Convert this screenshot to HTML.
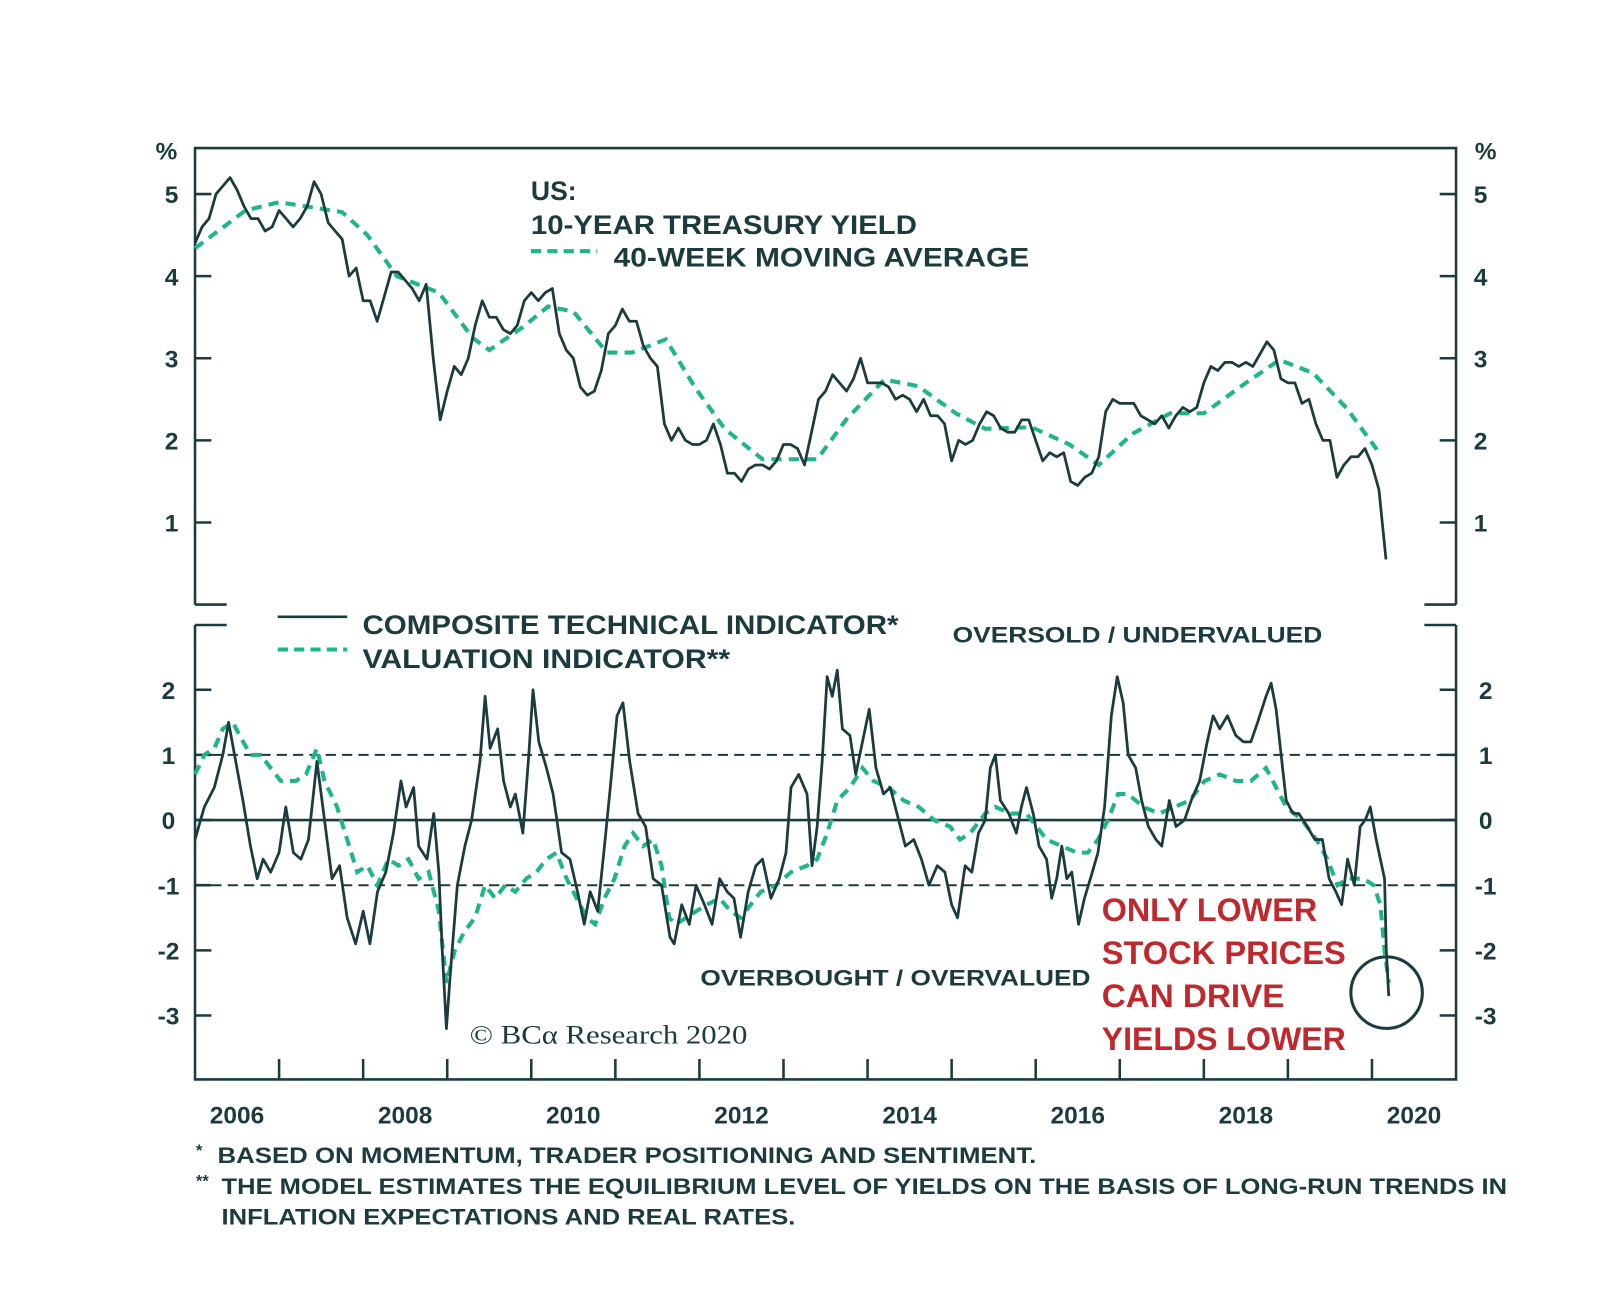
<!DOCTYPE html>
<html><head><meta charset="utf-8">
<style>
html,body{margin:0;padding:0;background:#fff;}
svg{display:block;}
</style></head>
<body>
<svg id="chart" width="1600" height="1298" viewBox="0 0 1567 1271" preserveAspectRatio="none" font-family="Liberation Sans, sans-serif">
  <g id="frameG"></g>
  <g id="topPanelG"></g>
  <g id="botPanelG"></g>
  <g fill="#1b3b3e" font-weight="bold" font-size="26">
    <text x="520" y="196">US:</text>
    <text x="520" y="229" textLength="378" lengthAdjust="spacingAndGlyphs">10-YEAR TREASURY YIELD</text>
    <line x1="520" y1="246" x2="585" y2="246" stroke="#1fb58a" stroke-width="4" stroke-dasharray="10,6"/>
    <text x="601" y="261" textLength="407" lengthAdjust="spacingAndGlyphs">40-WEEK MOVING AVERAGE</text>
  </g>
  <g fill="#1b3b3e" font-weight="bold" font-size="26">
    <line x1="272" y1="604" x2="340" y2="604" stroke="#1b3b3e" stroke-width="2.5"/>
    <text x="355" y="621" textLength="525" lengthAdjust="spacingAndGlyphs">COMPOSITE TECHNICAL INDICATOR*</text>
    <line x1="272" y1="636" x2="340" y2="636" stroke="#1fb58a" stroke-width="4" stroke-dasharray="10,6"/>
    <text x="355" y="654" textLength="360" lengthAdjust="spacingAndGlyphs">VALUATION INDICATOR**</text>
  </g>
  <text x="933" y="629" font-size="22" font-weight="bold" fill="#1b3b3e" textLength="362" lengthAdjust="spacingAndGlyphs">OVERSOLD / UNDERVALUED</text>
  <text x="686" y="965" font-size="22" font-weight="bold" fill="#1b3b3e" textLength="382" lengthAdjust="spacingAndGlyphs">OVERBOUGHT / OVERVALUED</text>
  <g fill="#c0282d" font-size="32" font-weight="bold">
    <text x="1079" y="902" textLength="211" lengthAdjust="spacingAndGlyphs">ONLY LOWER</text>
    <text x="1079" y="944" textLength="239" lengthAdjust="spacingAndGlyphs">STOCK PRICES</text>
    <text x="1079" y="986" textLength="179" lengthAdjust="spacingAndGlyphs">CAN DRIVE</text>
    <text x="1079" y="1028" textLength="239" lengthAdjust="spacingAndGlyphs">YIELDS LOWER</text>
  </g>
  <circle cx="1358" cy="972" r="35" fill="none" stroke="#1b3b3e" stroke-width="3"/>
  <text x="460" y="1022" style="font-family:'Liberation Serif',serif" font-size="26" fill="#1b3b3e" textLength="272" lengthAdjust="spacingAndGlyphs">© BCα Research 2020</text>
  <g fill="#1b3b3e" font-weight="bold" font-size="22">
    <text x="192" y="1132" font-size="16">*</text>
    <text x="213" y="1139" textLength="802" lengthAdjust="spacingAndGlyphs">BASED ON MOMENTUM, TRADER POSITIONING AND SENTIMENT.</text>
    <text x="192" y="1162" font-size="16">**</text>
    <text x="217" y="1169" textLength="1259" lengthAdjust="spacingAndGlyphs">THE MODEL ESTIMATES THE EQUILIBRIUM LEVEL OF YIELDS ON THE BASIS OF LONG-RUN TRENDS IN</text>
    <text x="217" y="1199" textLength="562" lengthAdjust="spacingAndGlyphs">INFLATION EXPECTATIONS AND REAL RATES.</text>
  </g>
</svg>
<script>
// ---- data ----
const yieldStart = 2006.0; // monthly series
const yieldValues = [
4.4,4.6,4.7,5.0,5.1,5.2,5.05,4.85,4.7,4.7,4.55,4.6,
4.8,4.7,4.6,4.7,4.85,5.15,5.0,4.65,4.55,4.45,4.0,4.1,
3.7,3.7,3.45,3.75,4.05,4.05,3.95,3.85,3.7,3.9,3.0,2.25,
2.6,2.9,2.8,3.0,3.4,3.7,3.5,3.5,3.35,3.3,3.4,3.7,
3.8,3.7,3.8,3.85,3.3,3.1,3.0,2.65,2.55,2.6,2.85,3.3,
3.4,3.6,3.45,3.45,3.15,3.0,2.9,2.2,2.0,2.15,2.0,1.95,
1.95,2.0,2.2,1.95,1.6,1.6,1.5,1.65,1.7,1.7,1.65,1.75,
1.95,1.95,1.9,1.7,2.1,2.5,2.6,2.8,2.7,2.6,2.75,3.0,
2.7,2.7,2.7,2.65,2.5,2.55,2.5,2.35,2.5,2.3,2.3,2.2,
1.75,2.0,1.95,2.0,2.2,2.35,2.3,2.15,2.1,2.1,2.25,2.25,
2.0,1.75,1.85,1.8,1.85,1.5,1.45,1.55,1.6,1.8,2.35,2.5,
2.45,2.45,2.45,2.3,2.25,2.2,2.3,2.15,2.3,2.4,2.35,2.4,
2.7,2.9,2.85,2.95,2.95,2.9,2.95,2.9,3.05,3.2,3.1,2.75,
2.7,2.7,2.45,2.5,2.2,2.0,2.0,1.55,1.7,1.8,1.8,1.9,
1.7,1.4,0.55];
const maDates = [2006.0,2006.6,2007.0,2007.75,2008.05,2008.4,2008.9,2009.3,2009.5,2009.9,2010.2,2010.5,2010.9,2011.2,2011.6,2011.95,2012.3,2012.75,2013.15,2013.4,2013.75,2014.2,2014.6,2015.05,2015.4,2015.95,2016.4,2016.75,2017.15,2017.6,2018.0,2018.5,2018.9,2019.3,2019.7,2020.1];
const maValues = [4.34,4.8,4.9,4.78,4.5,4.0,3.8,3.25,3.1,3.38,3.63,3.57,3.07,3.07,3.23,2.64,2.14,1.77,1.77,1.77,2.26,2.74,2.66,2.33,2.14,2.16,1.95,1.7,2.08,2.33,2.33,2.7,2.98,2.82,2.39,1.83];
const compDates = [2006.00,2006.11,2006.23,2006.33,2006.40,2006.47,2006.57,2006.66,2006.74,2006.81,2006.90,2007.00,2007.08,2007.17,2007.26,2007.35,2007.45,2007.53,2007.63,2007.72,2007.81,2007.91,2008.00,2008.08,2008.17,2008.27,2008.36,2008.45,2008.51,2008.60,2008.66,2008.76,2008.84,2008.90,2008.94,2008.99,2009.04,2009.12,2009.21,2009.29,2009.39,2009.45,2009.51,2009.60,2009.67,2009.75,2009.81,2009.90,2009.97,2010.02,2010.09,2010.18,2010.26,2010.36,2010.46,2010.55,2010.63,2010.70,2010.79,2010.87,2010.94,2011.02,2011.09,2011.17,2011.27,2011.36,2011.45,2011.55,2011.65,2011.70,2011.79,2011.88,2011.96,2012.06,2012.15,2012.24,2012.33,2012.41,2012.49,2012.58,2012.67,2012.75,2012.85,2012.95,2013.03,2013.09,2013.18,2013.28,2013.34,2013.40,2013.46,2013.52,2013.58,2013.64,2013.70,2013.79,2013.86,2013.94,2014.02,2014.10,2014.19,2014.27,2014.37,2014.45,2014.55,2014.64,2014.73,2014.83,2014.92,2015.00,2015.07,2015.16,2015.24,2015.32,2015.40,2015.46,2015.52,2015.58,2015.68,2015.77,2015.83,2015.89,2015.97,2016.04,2016.13,2016.19,2016.25,2016.31,2016.37,2016.43,2016.51,2016.58,2016.65,2016.74,2016.82,2016.90,2016.97,2017.04,2017.10,2017.19,2017.26,2017.34,2017.43,2017.50,2017.59,2017.67,2017.77,2017.85,2017.95,2018.04,2018.11,2018.19,2018.28,2018.38,2018.47,2018.56,2018.64,2018.74,2018.80,2018.86,2018.92,2018.98,2019.06,2019.13,2019.23,2019.32,2019.41,2019.49,2019.57,2019.64,2019.71,2019.79,2019.86,2019.92,2019.98,2020.05,2020.10,2020.15,2020.17,2020.20];
const compValues = [-0.3,0.2,0.5,1.0,1.5,1.0,0.3,-0.4,-0.9,-0.6,-0.8,-0.5,0.2,-0.5,-0.6,-0.3,0.9,0.1,-0.9,-0.7,-1.5,-1.9,-1.4,-1.9,-1.1,-0.8,-0.2,0.6,0.2,0.5,-0.4,-0.6,0.1,-0.8,-2.0,-3.2,-2.3,-1.0,-0.4,0.0,0.9,1.9,1.1,1.4,0.6,0.2,0.4,-0.2,1.0,2.0,1.2,0.8,0.4,-0.5,-0.6,-1.1,-1.6,-1.1,-1.4,-0.4,0.5,1.6,1.8,0.9,0.1,-0.1,-0.9,-1.0,-1.8,-1.9,-1.3,-1.6,-1.0,-1.3,-1.6,-0.9,-1.1,-1.2,-1.8,-1.1,-0.7,-0.6,-1.2,-0.9,-0.5,0.5,0.7,0.4,-0.7,-0.1,0.9,2.2,1.9,2.3,1.4,1.3,0.7,1.2,1.7,0.8,0.4,0.5,0.0,-0.4,-0.3,-0.6,-1.0,-0.7,-0.8,-1.3,-1.5,-0.7,-0.8,-0.2,0.0,0.8,1.0,0.3,0.1,-0.2,0.2,0.5,0.1,-0.4,-0.6,-1.2,-0.9,-0.4,-0.9,-0.8,-1.6,-1.2,-0.9,-0.5,0.2,1.6,2.2,1.8,1.0,0.8,0.3,-0.1,-0.3,-0.4,0.3,-0.1,0.0,0.3,0.6,1.2,1.6,1.4,1.6,1.3,1.2,1.2,1.5,1.9,2.1,1.7,1.0,0.3,0.1,0.1,-0.1,-0.3,-0.3,-0.9,-1.1,-1.3,-0.6,-1.0,-0.1,0.0,0.2,-0.3,-0.6,-0.9,-2.0,-2.7];
const valDates = [2006.00,2006.11,2006.23,2006.33,2006.45,2006.53,2006.66,2006.78,2006.90,2007.02,2007.20,2007.32,2007.45,2007.54,2007.69,2007.81,2007.93,2008.05,2008.17,2008.30,2008.42,2008.54,2008.66,2008.78,2008.90,2008.99,2009.09,2009.21,2009.33,2009.45,2009.57,2009.69,2009.81,2009.94,2010.06,2010.18,2010.30,2010.42,2010.54,2010.66,2010.76,2010.87,2010.99,2011.11,2011.21,2011.33,2011.45,2011.55,2011.64,2011.72,2011.84,2011.96,2012.09,2012.24,2012.37,2012.49,2012.61,2012.73,2012.91,2013.09,2013.28,2013.40,2013.52,2013.64,2013.79,2013.94,2014.07,2014.25,2014.43,2014.61,2014.79,2014.98,2015.10,2015.22,2015.40,2015.52,2015.70,2015.89,2016.01,2016.13,2016.31,2016.49,2016.62,2016.74,2016.86,2016.98,2017.10,2017.28,2017.47,2017.65,2017.83,2018.01,2018.19,2018.38,2018.56,2018.74,2018.86,2018.98,2019.17,2019.34,2019.47,2019.59,2019.71,2019.90,2020.02,2020.10,2020.15,2020.20];
const valValues = [0.7,1.0,1.1,1.4,1.5,1.3,1.0,1.0,0.8,0.6,0.6,0.7,1.1,0.6,0.2,-0.3,-0.8,-0.7,-1.0,-0.6,-0.7,-0.6,-0.9,-0.8,-1.4,-2.5,-2.0,-1.7,-1.5,-1.0,-1.2,-1.0,-1.1,-0.9,-0.8,-0.6,-0.5,-0.9,-1.2,-1.5,-1.6,-1.2,-0.9,-0.4,-0.2,-0.4,-0.3,-0.7,-1.5,-1.6,-1.5,-1.4,-1.3,-1.2,-1.4,-1.5,-1.3,-1.1,-1.0,-0.8,-0.7,-0.6,-0.2,0.3,0.5,0.8,0.6,0.5,0.3,0.2,0.0,-0.1,-0.3,-0.2,0.1,0.2,0.1,0.1,-0.1,-0.3,-0.4,-0.5,-0.5,-0.3,0.0,0.4,0.4,0.2,0.1,0.2,0.3,0.6,0.7,0.6,0.6,0.8,0.5,0.2,0.0,-0.3,-0.6,-1.0,-0.9,-0.9,-1.0,-1.3,-2.0,-2.5];
const yearLabels = ["2006","2008","2010","2012","2014","2016","2018","2020"];
const topTicks = [1,2,3,4,5];
const botTicks = [-3,-2,-1,0,1,2];

// ---- scales ----
const X0=191, X1=1426, T0=2006, T1=2021;
const xs = t => X0 + (t-T0)/(T1-T0)*(X1-X0);
const yTop = v => 592 - v*80.4;
const yBot = v => 803 - v*63.8;
const NS="http://www.w3.org/2000/svg";
const DARK="#1b3b3e", GREEN="#1fb58a";
function mk(tag, attrs, parent){const e=document.createElementNS(NS,tag);for(const k in attrs)e.setAttribute(k,attrs[k]);parent.appendChild(e);return e;}
function pathD(ts, vs, ys){return ts.map((t,i)=>(i?"L":"M")+xs(t).toFixed(1)+","+ys(vs[i]).toFixed(1)).join("");}

const frameG=document.getElementById("frameG");
const topG=document.getElementById("topPanelG");
const botG=document.getElementById("botPanelG");
const st={stroke:DARK,"stroke-width":2.5,fill:"none"};

let el;
el=mk("path",Object.assign({d:"M191,592V145H1426V592M191,592H222M1395,592H1426"},st),frameG);


el=mk("path",Object.assign({d:"M191,612V1057H1426V612M191,612H222M1395,612H1426"},st),frameG);



topTicks.forEach(v=>{
  const y=yTop(v);
  el=mk("path",{d:`M191,${y}H207M1410,${y}H1426`,stroke:DARK,"stroke-width":2.5},topG);
  
  
  el=mk("text",{x:168,y:y+9,"text-anchor":"middle","font-size":24,"font-weight":"bold",fill:DARK},topG);
  el.textContent=v;
  
  
  el=mk("text",{x:1450,y:y+9,"text-anchor":"middle","font-size":24,"font-weight":"bold",fill:DARK},topG);
  el.textContent=v;
  
  
});
[163,1455].forEach(x=>{
  el=mk("text",{x:x,y:156,"text-anchor":"middle","font-size":24,"font-weight":"bold",fill:DARK},topG);
  el.textContent="%";
  
  
});

botTicks.forEach(v=>{
  const y=yBot(v);
  el=mk("path",{d:`M191,${y}H207M1410,${y}H1426`,stroke:DARK,"stroke-width":2.5},botG);
  
  
  const lab=String(v);
  el=mk("text",{x:165,y:y+9,"text-anchor":"middle","font-size":24,"font-weight":"bold",fill:DARK},botG);
  el.textContent=lab;
  
  
  el=mk("text",{x:1455,y:y+9,"text-anchor":"middle","font-size":24,"font-weight":"bold",fill:DARK},botG);
  el.textContent=lab;
  
  
});
el=mk("line",{x1:191,x2:1426,y1:yBot(0),y2:yBot(0),stroke:DARK,"stroke-width":2.5},botG);


[1,-1].forEach(v=>{
  el=mk("line",{x1:191,x2:1426,y1:yBot(v),y2:yBot(v),stroke:DARK,"stroke-width":2,"stroke-dasharray":"10,6"},botG);
  
  
});
for(let yr=2007; yr<=2020; yr++){
  const x=xs(yr);
  el=mk("line",{x1:x,x2:x,y1:1057,y2:1037,stroke:DARK,"stroke-width":2.5},botG);
  
  
}
yearLabels.forEach(l=>{
  const yr=+l;
  el=mk("text",{x:xs(yr+0.5),y:1100,"text-anchor":"middle","font-size":24,"font-weight":"bold",fill:DARK},botG);
  el.textContent=l;
  
  
});

const yDates = yieldValues.map((v,i)=>yieldStart+i/12);
el=mk("path",{d:pathD(maDates,maValues,yTop),stroke:GREEN,"stroke-width":4,fill:"none","stroke-dasharray":"10,7"},topG);


el=mk("path",{d:pathD(yDates,yieldValues,yTop),stroke:DARK,"stroke-width":2.7,fill:"none","stroke-linejoin":"round"},topG);



el=mk("path",{d:pathD(valDates,valValues,yBot),stroke:GREEN,"stroke-width":4,fill:"none","stroke-dasharray":"10,7"},botG);


el=mk("path",{d:pathD(compDates,compValues,yBot),stroke:DARK,"stroke-width":2.7,fill:"none","stroke-linejoin":"round"},botG);


</script>
</body></html>
